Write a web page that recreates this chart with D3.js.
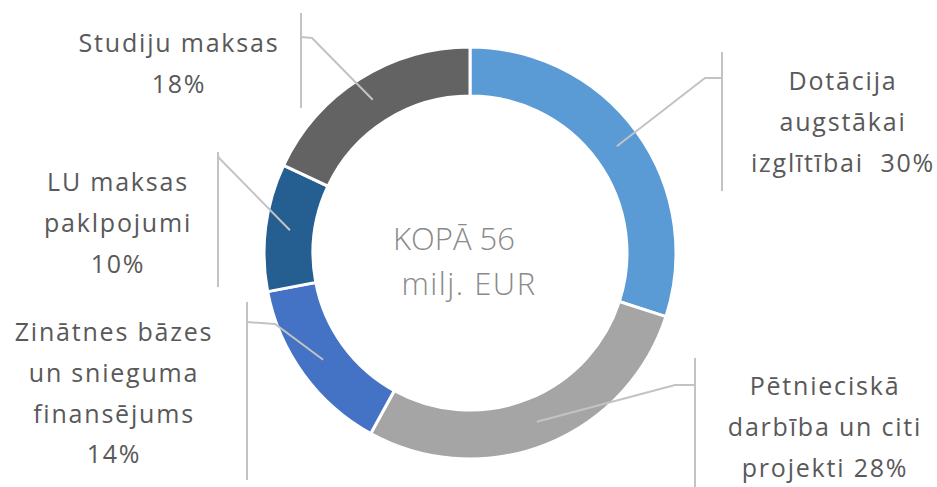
<!DOCTYPE html>
<html>
<head>
<meta charset="utf-8">
<script src="https://cdn.jsdelivr.net/npm/d3@7/dist/d3.min.js"></script>
<style>
  html, body { margin: 0; padding: 0; background: #ffffff; }
  svg { display: block; }
  .lbl { font-family: "Open Sans", "Noto Sans", sans-serif; font-size: 25px; fill: #595959; letter-spacing: 1.8px; }
  .total { font-family: "Open Sans", "Noto Sans", sans-serif; font-size: 31px; fill: #8a8a8a; font-weight: 300; }
</style>
</head>
<body>
<svg id="chart" width="937" height="487"></svg>
<script>
// Revenue structure, clockwise from 12 o'clock
const categories = [
  "Dotācija augstākai izglītībai",
  "Pētnieciskā darbība un citi projekti",
  "Zinātnes bāzes un snieguma finansējums",
  "LU maksas paklpojumi",
  "Studiju maksas"
];
const shares = [30, 28, 14, 10, 18];
const colors = ["#5B9BD5", "#A5A5A5", "#4472C4", "#255E91", "#636363"];
const labelLines = [
  ["Dotācija", "augstākai", "izglītībai  30%"],
  ["Pētnieciskā", "darbība un citi", "projekti 28%"],
  ["Zinātnes bāzes", "un snieguma", "finansējums", "14%"],
  ["LU maksas", "paklpojumi", "10%"],
  ["Studiju maksas", "18%"]
];
const totalText = ["KOPĀ 56", "milj. EUR"];

// Label placement: text centre, first baseline, callout bar and elbow
const labelLayout = [
  { cx: 843, y0: 90,  barX: 722, barY: [52, 191],  elbow: [[705, 78], [722, 78]] },
  { cx: 825, y0: 395, barX: 695, barY: [358, 487], elbow: [[675, 385], [695, 385]] },
  { cx: 114, y0: 341, barX: 247, barY: [302, 480], elbow: [[275, 324], [247, 322]] },
  { cx: 118, y0: 191, barX: 218, barY: [152, 287], elbow: [[219, 158], [218, 156]] },
  { cx: 179, y0: 52,  barX: 301, barY: [13, 108],  elbow: [[312, 38], [301, 37]] }
];
const lineGap = 40.8;

const svg = d3.select("#chart");
const cx = 470, cy = 253, rOuter = 206, rInner = 157;

const pie = d3.pie().value(d => d).sort(null);
const arcs = pie(shares);
const arc = d3.arc().innerRadius(rInner).outerRadius(rOuter);

const g = svg.append("g").attr("transform", `translate(${cx},${cy})`);

g.selectAll("path.slice")
  .data(arcs)
  .join("path")
  .attr("class", "slice")
  .attr("d", arc)
  .attr("fill", (d, i) => colors[i])
  .attr("stroke", "#ffffff")
  .attr("stroke-width", 3);

// Callout lines: from slice centroid to the elbow, then the vertical bar
const leaders = svg.append("g")
  .attr("fill", "none")
  .attr("stroke", "#c3c3c3")
  .attr("stroke-width", 2);

arcs.forEach((a, i) => {
  const L = labelLayout[i];
  const c = arc.centroid(a);
  const pts = [[cx + c[0], cy + c[1]], ...L.elbow];
  leaders.append("path").attr("d", d3.line()(pts));
  leaders.append("line")
    .attr("x1", L.barX).attr("x2", L.barX)
    .attr("y1", L.barY[0]).attr("y2", L.barY[1]);
});

// Category labels
labelLines.forEach((lines, i) => {
  const L = labelLayout[i];
  const t = svg.append("text").attr("class", "lbl").attr("text-anchor", "middle");
  lines.forEach((s, k) => {
    t.append("tspan").attr("x", L.cx).attr("y", L.y0 + k * lineGap)
      .attr("xml:space", "preserve").style("white-space", "pre").text(s);
  });
});

// Total in the centre
const tt = svg.append("text").attr("class", "total").attr("text-anchor", "middle");
tt.append("tspan").attr("x", 454).attr("y", 250).text(totalText[0]);
tt.append("tspan").attr("x", 469).attr("y", 295).style("letter-spacing", "1.5px").text(totalText[1]);
</script>
</body>
</html>
